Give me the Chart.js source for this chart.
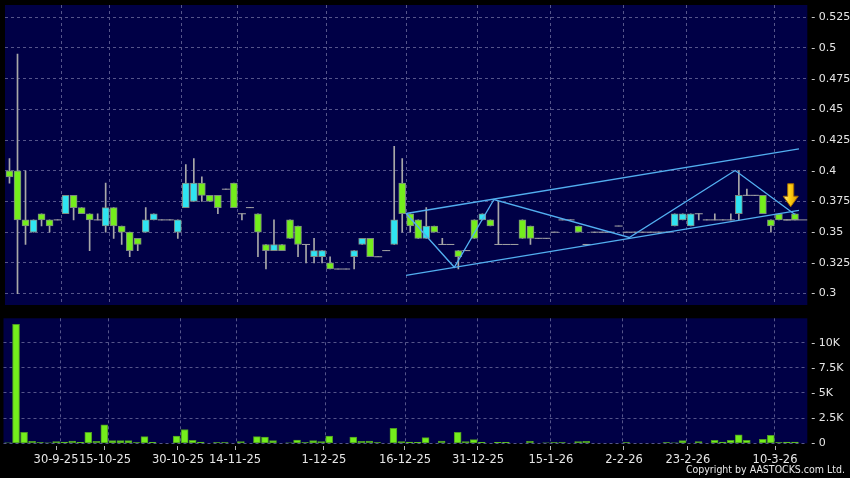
<!DOCTYPE html>
<html>
<head>
<meta charset="utf-8">
<script src="https://cdn.jsdelivr.net/npm/chart.js@4"></script>
<style>
  html, body { margin: 0; padding: 0; background: #000; }
  #wrap { position: relative; width: 850px; height: 478px; overflow: hidden; background: #000; }
  canvas { position: absolute; left: 0; }
  #copy { position: absolute; right: 5px; top: 463px; color: #e8e8e8;
    font-family: "DejaVu Sans Condensed", "DejaVu Sans", sans-serif; font-stretch: condensed; font-size: 10.5px; }
</style>
</head>
<body>
<div id="wrap">
  <canvas id="price" width="850" height="310" style="top:0"></canvas>
  <canvas id="vol" width="850" height="168" style="top:310px"></canvas>
  <div id="copy">Copyright by AASTOCKS.com Ltd.</div>
</div>
<script>
// daily candles, oldest first
const opens = [
  0.40, 0.40, 0.36, 0.35, 0.365, 0.36, 0.36, 0.365, 0.38, 0.37,
  0.365, 0.36, 0.355, 0.37, 0.355, 0.35, 0.345, 0.35, 0.36, 0.36,
  0.36, 0.35, 0.37, 0.375, 0.39, 0.38, 0.38, 0.385, 0.39, 0.365,
  0.37, 0.365, 0.34, 0.335, 0.34, 0.36, 0.355, 0.34, 0.33, 0.33,
  0.325, 0.32, 0.32, 0.33, 0.34, 0.345, 0.33, 0.335, 0.34, 0.39,
  0.365, 0.36, 0.345, 0.355, 0.34, 0.34, 0.335, 0.335, 0.36, 0.36,
  0.36, 0.34, 0.34, 0.34, 0.36, 0.355, 0.345, 0.345, 0.35, 0.36,
  0.36, 0.355, 0.34, 0.35, 0.35, 0.35, 0.355, 0.35, 0.35, 0.35,
  0.35, 0.35, 0.35, 0.355, 0.36, 0.355, 0.365, 0.36, 0.36, 0.36,
  0.36, 0.365, 0.38, 0.38, 0.38, 0.36, 0.365, 0.36, 0.365
];
const highs = [
  0.41, 0.495, 0.40, 0.36, 0.365, 0.36, 0.36, 0.38, 0.38, 0.37,
  0.365, 0.365, 0.39, 0.37, 0.355, 0.35, 0.345, 0.37, 0.365, 0.36,
  0.36, 0.36, 0.405, 0.41, 0.395, 0.38, 0.38, 0.385, 0.39, 0.365,
  0.37, 0.365, 0.34, 0.36, 0.34, 0.36, 0.355, 0.34, 0.345, 0.335,
  0.33, 0.32, 0.32, 0.335, 0.345, 0.345, 0.33, 0.335, 0.42, 0.41,
  0.365, 0.36, 0.37, 0.355, 0.345, 0.34, 0.335, 0.335, 0.36, 0.365,
  0.36, 0.375, 0.34, 0.34, 0.36, 0.355, 0.345, 0.345, 0.35, 0.36,
  0.36, 0.355, 0.34, 0.35, 0.35, 0.35, 0.355, 0.35, 0.35, 0.35,
  0.35, 0.35, 0.35, 0.365, 0.365, 0.365, 0.365, 0.36, 0.365, 0.36,
  0.365, 0.40, 0.385, 0.38, 0.38, 0.36, 0.365, 0.36, 0.365
];
const lows = [
  0.39, 0.30, 0.34, 0.35, 0.355, 0.35, 0.36, 0.365, 0.36, 0.365,
  0.335, 0.36, 0.35, 0.345, 0.34, 0.33, 0.335, 0.35, 0.36, 0.36,
  0.36, 0.345, 0.37, 0.375, 0.375, 0.375, 0.365, 0.385, 0.37, 0.36,
  0.37, 0.33, 0.32, 0.335, 0.335, 0.345, 0.33, 0.325, 0.325, 0.325,
  0.32, 0.32, 0.32, 0.32, 0.34, 0.33, 0.33, 0.335, 0.34, 0.35,
  0.35, 0.345, 0.345, 0.35, 0.34, 0.34, 0.32, 0.335, 0.345, 0.36,
  0.355, 0.34, 0.34, 0.34, 0.345, 0.34, 0.345, 0.345, 0.35, 0.36,
  0.36, 0.35, 0.34, 0.35, 0.35, 0.35, 0.355, 0.35, 0.35, 0.35,
  0.35, 0.35, 0.35, 0.355, 0.36, 0.355, 0.36, 0.36, 0.36, 0.36,
  0.36, 0.36, 0.38, 0.38, 0.365, 0.35, 0.36, 0.36, 0.36
];
const closes = [
  0.395, 0.36, 0.355, 0.36, 0.36, 0.355, 0.36, 0.38, 0.37, 0.365,
  0.36, 0.36, 0.37, 0.355, 0.35, 0.335, 0.34, 0.36, 0.365, 0.36,
  0.36, 0.36, 0.39, 0.39, 0.38, 0.375, 0.37, 0.385, 0.37, 0.365,
  0.37, 0.35, 0.335, 0.34, 0.335, 0.345, 0.34, 0.34, 0.335, 0.335,
  0.32, 0.32, 0.32, 0.335, 0.345, 0.33, 0.33, 0.335, 0.36, 0.365,
  0.355, 0.345, 0.355, 0.35, 0.34, 0.34, 0.33, 0.335, 0.345, 0.365,
  0.355, 0.34, 0.34, 0.34, 0.345, 0.345, 0.345, 0.345, 0.35, 0.36,
  0.36, 0.35, 0.34, 0.35, 0.35, 0.35, 0.355, 0.35, 0.35, 0.35,
  0.35, 0.35, 0.35, 0.365, 0.365, 0.365, 0.365, 0.36, 0.36, 0.36,
  0.36, 0.38, 0.38, 0.38, 0.365, 0.355, 0.36, 0.36, 0.36
];
const volumes = [
  30, 11830, 1100, 200, 80, 30, 170, 130, 230, 100,
  1100, 200, 1830, 270, 270, 270, 80, 670, 100, 0,
  0, 730, 1370, 300, 130, 0, 80, 80, 0, 170,
  0, 670, 630, 270, 0, 30, 330, 80, 270, 170,
  730, 0, 0, 630, 200, 230, 80, 0, 1500, 170,
  130, 100, 570, 0, 230, 0, 1100, 170, 370, 100,
  0, 100, 100, 0, 0, 200, 0, 30, 80, 80,
  0, 170, 200, 0, 0, 0, 0, 80, 0, 0,
  0, 0, 80, 30, 270, 0, 170, 0, 300, 130,
  300, 830, 300, 0, 400, 800, 80, 130, 130
];

// drawn trend lines (x = candle number from 0, y = price)
const channelUpper = [{x: 49.48, y: 0.3652}, {x: 98.5, y: 0.4178}];
const channelLower = [{x: 49.48, y: 0.3149}, {x: 98.5, y: 0.3677}];
const zigzag = [
  {x: 49.48, y: 0.3652}, {x: 55.5, y: 0.3214}, {x: 60.44, y: 0.3766},
  {x: 77.33, y: 0.3457}, {x: 90.54, y: 0.4002}, {x: 98.0, y: 0.3644}
];
const lastPrice = [{x: 96.6, y: 0.36}, {x: 99.6, y: 0.36}];
const arrowAt = {x: 97.47, y: 0.3707};

// axes
const dateLabels = ['30-9-25', '15-10-25', '30-10-25', '14-11-25', '1-12-25', '16-12-25',
  '31-12-25', '15-1-26', '2-2-26', '23-2-26', '10-3-26'];
const dateTickAt = [5.98, 12.08, 21.17, 28.27, 39.35, 49.44, 58.53, 67.62, 76.71, 84.68, 95.52];
const dateGridAt = [6.51, 12.49, 21.46, 28.43, 39.51, 49.48, 58.44, 67.56, 76.55, 84.5, 95.45];
const priceTicks = [0.3, 0.325, 0.35, 0.375, 0.4, 0.425, 0.45, 0.475, 0.5, 0.525];
const volTicks = [0, 2500, 5000, 7500, 10000];
const volTickLabels = ['0', '2.5K', '5K', '7.5K', '10K'];

const X_MIN = -0.56, X_MAX = 99.54;
const NAVY = '#000046';
const GRID = '#55558a';
const TXT = '#e6e6e6';
const UP = '#2fe4f2', DOWN = '#74ee1c';
const LINE = '#52aef0';

Chart.defaults.font.family = '"DejaVu Sans", sans-serif';
Chart.defaults.font.size = 11;
Chart.defaults.color = TXT;

const idx = opens.map((_, i) => i);
const bodies = idx.map(i => ({x: i, y: [opens[i], closes[i]]}));
const bodyCols = idx.map(i => closes[i] > opens[i] ? UP : DOWN);
const wicks = idx.map(i => ({x: i, y: [lows[i], highs[i]]}));
const dojis = idx.filter(i => opens[i] === closes[i]).map(i => ({x: i, y: opens[i]}));
const vols = idx.map(i => ({x: i, y: volumes[i]}));

// fixed axis sizes, no extra label padding
const fixH = h => s => { s.height = h; s.paddingLeft = 0; s.paddingRight = 0; };
const fixW = w => s => { s.width = w; s.paddingTop = 0; s.paddingBottom = 0; };

const navyBg = {
  id: 'navyBg',
  beforeDraw(chart) {
    const {ctx, chartArea: a} = chart;
    ctx.save();
    ctx.fillStyle = NAVY;
    ctx.fillRect(a.left, a.top, a.right - a.left, a.bottom - a.top);
    ctx.restore();
  }
};

const arrowMark = {
  id: 'arrowMark',
  afterDatasetsDraw(chart) {
    const {ctx, scales} = chart;
    const px = scales.x.getPixelForValue(arrowAt.x);
    const py = scales.y.getPixelForValue(arrowAt.y);
    ctx.save();
    const g = ctx.createLinearGradient(px - 8, 0, px + 8, 0);
    g.addColorStop(0, '#fff3a8');
    g.addColorStop(0.45, '#ffcf10');
    g.addColorStop(1, '#d99200');
    ctx.fillStyle = g;
    ctx.strokeStyle = '#a86c00';
    ctx.lineWidth = 1;
    ctx.beginPath();
    ctx.moveTo(px - 3, py - 23);
    ctx.lineTo(px + 3, py - 23);
    ctx.lineTo(px + 3, py - 10.5);
    ctx.lineTo(px + 7.5, py - 10.5);
    ctx.lineTo(px, py);
    ctx.lineTo(px - 7.5, py - 10.5);
    ctx.lineTo(px - 3, py - 10.5);
    ctx.closePath();
    ctx.fill();
    ctx.stroke();
    ctx.restore();
  }
};

const lineSet = (data) => ({
  type: 'line', data, borderColor: LINE, borderWidth: 1.3,
  pointRadius: 0, fill: false, tension: 0, order: 0
});

new Chart(document.getElementById('price'), {
  type: 'bar',
  data: {
    datasets: [
      lineSet(channelUpper),
      lineSet(channelLower),
      lineSet(zigzag),
      {type: 'line', data: lastPrice, borderColor: '#9a9a9a', borderWidth: 1, pointRadius: 0, order: 1},
      {
        type: 'line', data: dojis, showLine: false, pointStyle: 'line', pointRadius: 4,
        pointBorderColor: '#a4a4a4', pointBorderWidth: 1, order: 1
      },
      {
        data: bodies, backgroundColor: bodyCols, borderColor: '#7d8a80', borderWidth: 1,
        borderSkipped: false, barThickness: 7, grouped: false, order: 2
      },
      {
        data: wicks, backgroundColor: '#a8a8a8', borderWidth: 0,
        barThickness: 1, grouped: false, order: 3
      }
    ]
  },
  options: {
    responsive: false,
    animation: false,
    events: [],
    layout: {padding: {left: 3.5, top: 5, right: 0, bottom: 0}},
    plugins: {legend: {display: false}, tooltip: {enabled: false}},
    scales: {
      x: {
        type: 'linear', min: X_MIN, max: X_MAX, offset: false,
        afterBuildTicks: s => { s.ticks = dateGridAt.map(v => ({value: v})); },
        afterFit: fixH(4.3),
        ticks: {display: false},
        grid: {color: GRID, drawTicks: false, offset: false},
        border: {display: false, dash: [3, 3]}
      },
      y: {
        position: 'right', min: 0.2907, max: 0.535, beginAtZero: false,
        afterBuildTicks: s => { s.ticks = priceTicks.map(v => ({value: v})); },
        afterFit: fixW(42.7),
        ticks: {padding: 4, color: TXT, callback: v => '- ' + v},
        grid: {color: GRID, drawTicks: false},
        border: {display: false, dash: [3, 3]}
      }
    }
  },
  plugins: [navyBg, arrowMark]
});

new Chart(document.getElementById('vol'), {
  type: 'bar',
  data: {
    datasets: [{
      data: vols, backgroundColor: DOWN, borderColor: '#4c9a22', borderWidth: 1,
      borderSkipped: false, barThickness: 7, grouped: false
    }]
  },
  options: {
    responsive: false,
    animation: false,
    events: [],
    layout: {padding: {left: 3.5, top: 8.3, right: 0, bottom: 0}},
    plugins: {legend: {display: false}, tooltip: {enabled: false}},
    scales: {
      x: {
        type: 'linear', min: X_MIN, max: X_MAX, offset: false,
        afterBuildTicks: s => { s.ticks = dateGridAt.map(v => ({value: v})); },
        afterFit: fixH(0),
        ticks: {display: false},
        grid: {color: GRID, drawTicks: false, offset: false},
        border: {display: false, dash: [3, 3]}
      },
      xl: {
        type: 'linear', position: 'bottom', min: X_MIN, max: X_MAX, offset: false,
        afterBuildTicks: s => { s.ticks = dateTickAt.map(v => ({value: v})); },
        afterFit: fixH(34.7),
        ticks: {
          autoSkip: false, maxRotation: 0, minRotation: 0, padding: 3, color: TXT,
          font: {size: 11.5},
          callback: (v, i) => dateLabels[i]
        },
        grid: {
          drawOnChartArea: false, drawTicks: true, tickLength: 7,
          tickColor: '#b4b4b4', tickBorderDash: [0, 3, 4, 20], offset: false
        },
        border: {display: false}
      },
      y: {
        position: 'right', min: 0, max: 12425,
        afterBuildTicks: s => { s.ticks = volTicks.map(v => ({value: v})); },
        afterFit: fixW(42.7),
        ticks: {padding: 4, color: TXT, callback: (v, i) => '- ' + volTickLabels[i]},
        grid: {color: GRID, drawTicks: false},
        border: {display: false, dash: [3, 3]}
      }
    }
  },
  plugins: [navyBg]
});
</script>
</body>
</html>
